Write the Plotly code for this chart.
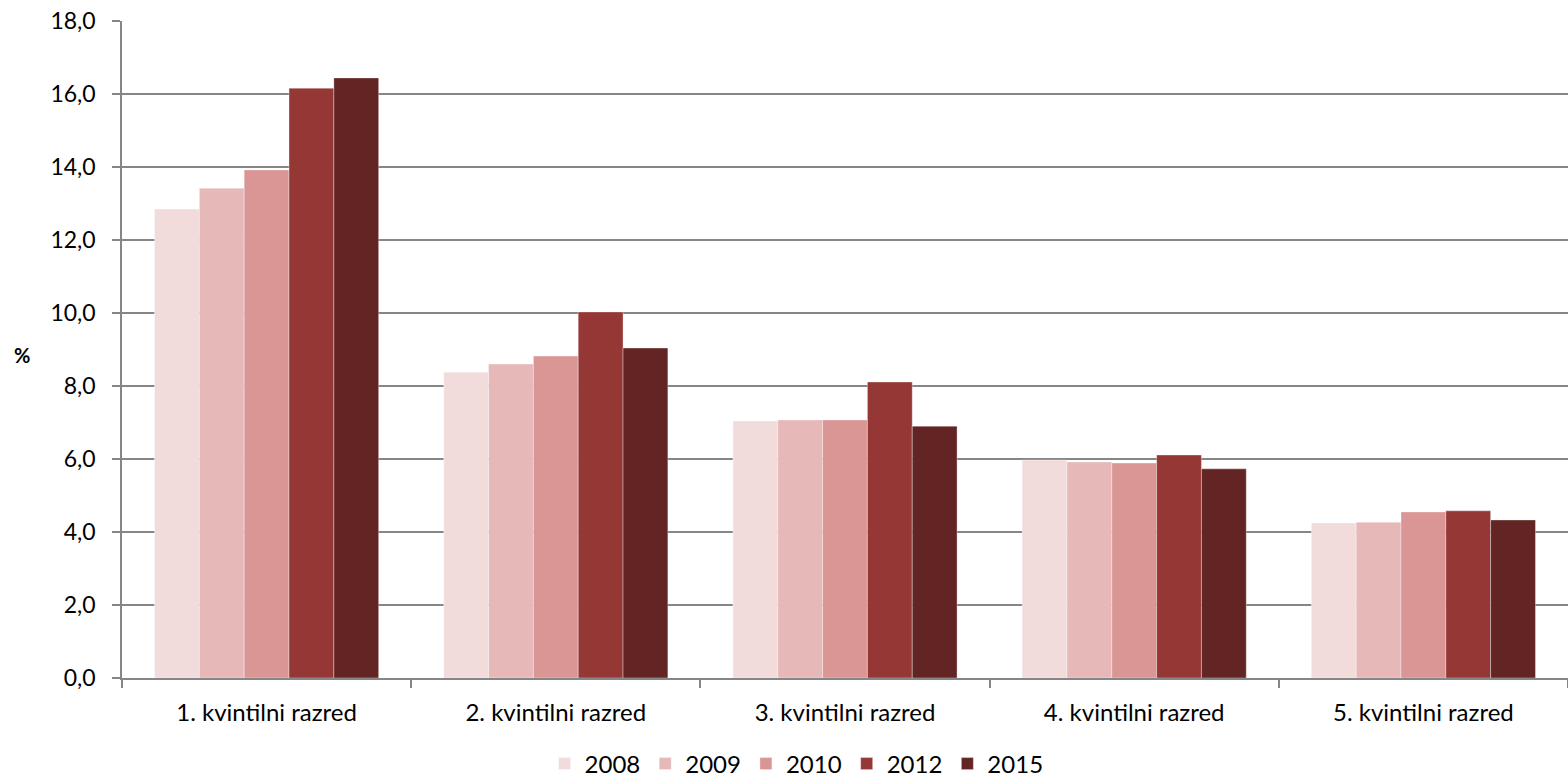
import plotly.graph_objects as go

categories = ["1. kvintilni razred", "2. kvintilni razred", "3. kvintilni razred",
              "4. kvintilni razred", "5. kvintilni razred"]
years = ["2008", "2009", "2010", "2012", "2015"]
v2008 = [12.85, 8.38, 7.04, 5.97, 4.25]
v2009 = [13.42, 8.60, 7.07, 5.92, 4.27]
v2010 = [13.92, 8.82, 7.07, 5.89, 4.55]
v2012 = [16.16, 10.03, 8.11, 6.11, 4.58]
v2015 = [16.44, 9.04, 6.90, 5.73, 4.33]
series = [v2008, v2009, v2010, v2012, v2015]
colors = ["#F2DCDB", "#E6B9B8", "#D99694", "#953735", "#632523"]
tickvals = [0, 2, 4, 6, 8, 10, 12, 14, 16, 18]
ticktext = ["0,0", "2,0", "4,0", "6,0", "8,0", "10,0", "12,0", "14,0", "16,0", "18,0"]

fig = go.Figure()
for y, vals, c in zip(years, series, colors):
    fig.add_trace(go.Bar(x=categories, y=vals, name=y,
                         marker=dict(color=c, line=dict(color="rgba(255,255,255,0.35)", width=1))))

font = "Lato, Carlito, 'Open Sans', sans-serif"
fig.update_layout(
    width=1568, height=778,
    margin=dict(l=122, r=0, t=21, b=100),
    paper_bgcolor="white", plot_bgcolor="white",
    barmode="group", bargap=0.225, bargroupgap=0,
    font=dict(family=font, size=23, color="black"),
    legend=dict(orientation="h", xref="container", x=0.508, xanchor="center",
                yref="container", y=0.018, yanchor="middle",
                font=dict(size=24), itemwidth=30, traceorder="normal"),
    xaxis=dict(showline=True, linecolor="#868686", linewidth=1.5, ticks="outside",
               tickson="boundaries", ticklen=8, tickcolor="#868686", tickwidth=1.5,
               tickfont=dict(size=24), showgrid=False, automargin=False,
               ticklabelstandoff=12),
    yaxis=dict(range=[0, 18], tickvals=tickvals, ticktext=ticktext, showline=True,
               linecolor="#868686", linewidth=1.5, ticks="outside", ticklen=8,
               tickcolor="#868686", tickwidth=1.5, showgrid=True, gridcolor="#868686",
               gridwidth=1.5, zeroline=False, tickfont=dict(size=23), automargin=False,
               ticklabelstandoff=12),
)
fig.add_annotation(text="<b>%</b>", xref="paper", yref="paper", x=-0.069, y=0.4916,
                   showarrow=False, font=dict(size=20), xanchor="center")
fig.write_html("out.html", config={"displayModeBar": False},
               post_script="document.body.style.margin='0';document.body.style.overflow='hidden';")
